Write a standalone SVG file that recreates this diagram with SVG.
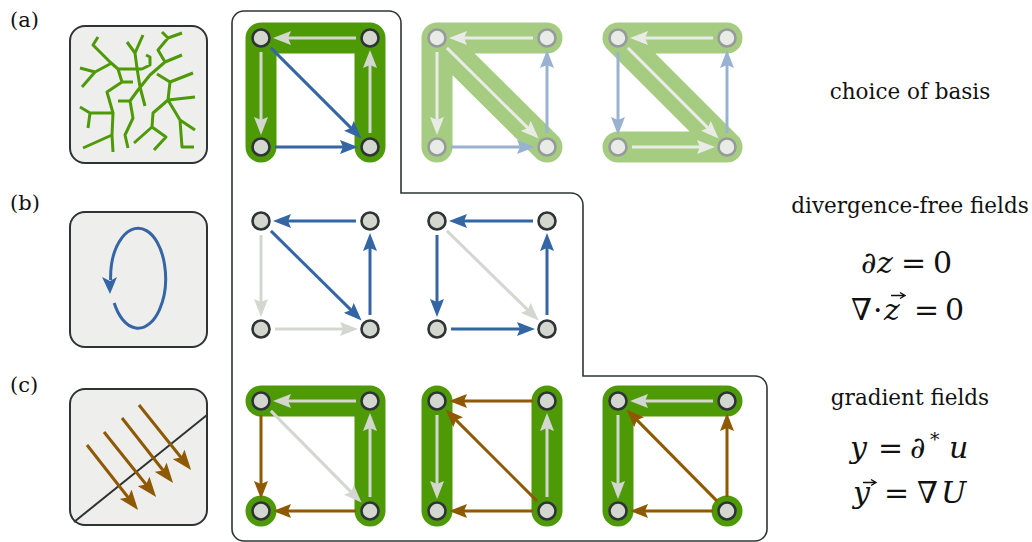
<svg xmlns="http://www.w3.org/2000/svg" width="1032" height="542" viewBox="0 0 1032 542">
<style>
.box{fill:#eeeeec;stroke:#2e3436;stroke-width:2}
.n{fill:#d3d7cf;stroke:#2e3436;stroke-width:2.6}
.nf{fill:#e9ebe7;stroke:#969a9b;stroke-width:2.6}
.band{fill:none;stroke:#4e9a06;stroke-width:31;stroke-linecap:round;stroke-linejoin:round}
.bandf{fill:none;stroke:#a6cc82;stroke-width:31;stroke-linecap:round;stroke-linejoin:round}
.e{fill:none;stroke-width:3}
.g{stroke:#d3d7cf;marker-end:url(#mg)}
.gf{stroke:#e9ebe7;marker-end:url(#mgf)}
.b{stroke:#3465a4;marker-end:url(#mb)}
.bf{stroke:#99b2d1;marker-end:url(#mbf)}
.o{stroke:#8f5902;marker-end:url(#mo)}
.tree{fill:none;stroke:#4e9a06;stroke-width:3;stroke-linejoin:round}
.lbl{font-family:"DejaVu Serif","Liberation Serif",serif;font-size:21.5px;fill:#111;text-anchor:middle}
.pl{font-family:"DejaVu Serif","Liberation Serif",serif;font-size:21px;fill:#111}
.m{font-family:"DejaVu Serif","Liberation Serif",serif;font-size:30px;fill:#111}
.i{font-style:italic}
.vec{fill:none;stroke:#111;stroke-width:1.4}
</style>
<defs>
<marker id="mg" markerUnits="userSpaceOnUse" markerWidth="18" markerHeight="14" viewBox="0 0 18 14" refX="10" refY="7" orient="auto"><path d="M0,0 L18,7 L0,14 L3,7z" fill="#d3d7cf"/></marker>
<marker id="mgf" markerUnits="userSpaceOnUse" markerWidth="18" markerHeight="14" viewBox="0 0 18 14" refX="10" refY="7" orient="auto"><path d="M0,0 L18,7 L0,14 L3,7z" fill="#e9ebe7"/></marker>
<marker id="mb" markerUnits="userSpaceOnUse" markerWidth="18" markerHeight="14" viewBox="0 0 18 14" refX="10" refY="7" orient="auto"><path d="M0,0 L18,7 L0,14 L3,7z" fill="#3465a4"/></marker>
<marker id="mbf" markerUnits="userSpaceOnUse" markerWidth="18" markerHeight="14" viewBox="0 0 18 14" refX="10" refY="7" orient="auto"><path d="M0,0 L18,7 L0,14 L3,7z" fill="#99b2d1"/></marker>
<marker id="mo" markerUnits="userSpaceOnUse" markerWidth="18" markerHeight="14" viewBox="0 0 18 14" refX="10" refY="7" orient="auto"><path d="M0,0 L18,7 L0,14 L3,7z" fill="#8f5902"/></marker>
<marker id="mob" markerUnits="userSpaceOnUse" markerWidth="20" markerHeight="15" viewBox="0 0 20 15" refX="12" refY="7.5" orient="auto"><path d="M0,0 L20,7.5 L0,15 L4,7.5z" fill="#8f5902"/></marker>
</defs>
<rect width="1032" height="542" fill="#fff"/>

<!-- panel labels -->
<text class="pl" x="10" y="27">(a)</text>
<text class="pl" x="10" y="210">(b)</text>
<text class="pl" x="10" y="392">(c)</text>

<!-- icons -->
<g id="icon-a">
<rect class="box" x="70" y="26" width="137" height="137" rx="15"/>
<path class="tree" d="M98,37 L93,45 L110,62 L118,69 L142,69 L150,65 L150,57 L146,55 M80,68 L95,72 L110,64 M95,72 L82,87 M118,69 L122,82 L107,92 L113,113 L112,135 L113,152 M122,82 L133,82 M127,42 L135,53 L137,68 L140,87 L145,106 M135,53 L143,35 M162,32 L168,38 L182,33 M168,38 L158,50 L165,62 L150,75 L138,90 L130,101 L118,101 M165,62 L182,55 M157,74 L170,82 L193,73 M170,82 L168,100 L195,97 M168,100 L180,120 L195,130 M180,120 L182,147 L194,147 M168,100 L153,113 L152,127 L134,143 M152,127 L166,137 L154,150 M130,101 L133,118 L125,135 L128,148 M80,107 L90,113 L113,113 M90,113 L88,128 M112,135 L83,148"/>
</g>
<g id="icon-b">
<rect class="box" x="70" y="212" width="137" height="135" rx="15"/>
<path d="M114.2,303 A27.5,50 0 1 0 110.6,280" fill="none" stroke="#3465a4" stroke-width="3"/>
<path d="M102,277 L110,294 L117,277 L110,281z" fill="#3465a4"/>
</g>
<g id="icon-c">
<rect class="box" x="70" y="389" width="137" height="136" rx="15"/>
<line x1="74" y1="522" x2="207" y2="415" stroke="#2e3436" stroke-width="2"/>
<g fill="none" stroke="#8f5902" stroke-width="3" marker-end="url(#mob)">
<path d="M87,445 L133.1,503.7"/>
<path d="M104,432 L151.1,490.7"/>
<path d="M122,418 L168.1,476.7"/>
<path d="M139,405 L186.1,463.7"/>
</g>
</g>

<!-- outline -->
<path id="frame" d="M232,23 A12,12 0 0 1 244,11 L389,11 A12,12 0 0 1 401,23 L401,193 L571,193 A12,12 0 0 1 583,205 L583,376 L755,376 A12,12 0 0 1 767,388 L767,529 A12,12 0 0 1 755,541 L244,541 A12,12 0 0 1 232,529 Z" fill="none" stroke="#2e3436" stroke-width="1.6"/>

<!-- bands -->
<g id="bands">
<path class="band" d="M261,147 L261,38 L370,38 L370,147"/>
<path class="bandf" d="M437,147 L437,38 L547,147 M437,38 L547,38"/>
<path class="bandf" d="M727,38 L618,38 L727,147 L618,147"/>
<path class="band" d="M261,401 L370,401 L370,511"/>
<circle cx="261" cy="511" r="15.5" fill="#4e9a06"/>
<path class="band" d="M437,401 L437,511 M547,401 L547,511"/>
<path class="band" d="M618,511 L618,401 L727,401"/>
<circle cx="727" cy="511" r="15.5" fill="#4e9a06"/>
</g>

<!-- connectors -->
<g id="connectors">
<g id="edges-a1">
<path class="e g" d="M356,38 L281,38"/>
<path class="e g" d="M261,52 L261,127"/>
<path class="e g" d="M370,133 L370,58"/>
<path class="e b" d="M270.9,47.9 L355.9,132.9"/>
<path class="e b" d="M275,147 L350,147"/>
</g>
<g id="edges-a2">
<path class="e gf" d="M533,38 L457,38"/>
<path class="e gf" d="M437,52 L437,127"/>
<path class="e gf" d="M446.9,47.9 L532.9,132.9"/>
<path class="e bf" d="M451,147 L527,147"/>
<path class="e bf" d="M547,133 L547,58"/>
</g>
<g id="edges-a3">
<path class="e gf" d="M713,38 L638,38"/>
<path class="e gf" d="M627.9,47.9 L712.9,132.9"/>
<path class="e gf" d="M632,147 L707,147"/>
<path class="e bf" d="M618,52 L618,127"/>
<path class="e bf" d="M727,133 L727,58"/>
</g>
<g id="edges-b1">
<path class="e b" d="M356,221 L281,221"/>
<path class="e b" d="M270.9,230.9 L355.9,314.9"/>
<path class="e b" d="M370,315 L370,241"/>
<path class="e g" d="M261,235 L261,309"/>
<path class="e g" d="M275,329 L350,329"/>
</g>
<g id="edges-b2">
<path class="e b" d="M533,221 L457,221"/>
<path class="e b" d="M437,235 L437,309"/>
<path class="e b" d="M451,329 L527,329"/>
<path class="e b" d="M547,315 L547,241"/>
<path class="e g" d="M446.9,230.9 L532.9,314.9"/>
</g>
<g id="edges-c1">
<path class="e g" d="M356,401 L281,401"/>
<path class="e g" d="M270.9,410.9 L355.9,496.9"/>
<path class="e g" d="M370,497 L370,421"/>
<path class="e o" d="M261,415 L261,491"/>
<path class="e o" d="M356,511 L281,511"/>
</g>
<g id="edges-c2">
<path class="e g" d="M437,415 L437,491"/>
<path class="e g" d="M547,497 L547,421"/>
<path class="e o" d="M533,401 L457,401"/>
<path class="e o" d="M537.1,501.1 L451.1,415.1"/>
<path class="e o" d="M533,511 L457,511"/>
</g>
<g id="edges-c3">
<path class="e g" d="M713,401 L638,401"/>
<path class="e g" d="M618,415 L618,491"/>
<path class="e o" d="M727,497 L727,421"/>
<path class="e o" d="M717.1,501.1 L632.1,415.1"/>
<path class="e o" d="M713,511 L638,511"/>
</g>
</g>

<!-- nodes -->
<g id="a1-tl"><circle class="n" cx="261" cy="38" r="8.5"/></g>
<g id="a1-tr"><circle class="n" cx="370" cy="38" r="8.5"/></g>
<g id="a1-bl"><circle class="n" cx="261" cy="147" r="8.5"/></g>
<g id="a1-br"><circle class="n" cx="370" cy="147" r="8.5"/></g>
<g id="a2-tl"><circle class="nf" cx="437" cy="38" r="8.5"/></g>
<g id="a2-tr"><circle class="nf" cx="547" cy="38" r="8.5"/></g>
<g id="a2-bl"><circle class="nf" cx="437" cy="147" r="8.5"/></g>
<g id="a2-br"><circle class="nf" cx="547" cy="147" r="8.5"/></g>
<g id="a3-tl"><circle class="nf" cx="618" cy="38" r="8.5"/></g>
<g id="a3-tr"><circle class="nf" cx="727" cy="38" r="8.5"/></g>
<g id="a3-bl"><circle class="nf" cx="618" cy="147" r="8.5"/></g>
<g id="a3-br"><circle class="nf" cx="727" cy="147" r="8.5"/></g>
<g id="b1-tl"><circle class="n" cx="261" cy="221" r="8.5"/></g>
<g id="b1-tr"><circle class="n" cx="370" cy="221" r="8.5"/></g>
<g id="b1-bl"><circle class="n" cx="261" cy="329" r="8.5"/></g>
<g id="b1-br"><circle class="n" cx="370" cy="329" r="8.5"/></g>
<g id="b2-tl"><circle class="n" cx="437" cy="221" r="8.5"/></g>
<g id="b2-tr"><circle class="n" cx="547" cy="221" r="8.5"/></g>
<g id="b2-bl"><circle class="n" cx="437" cy="329" r="8.5"/></g>
<g id="b2-br"><circle class="n" cx="547" cy="329" r="8.5"/></g>
<g id="c1-tl"><circle class="n" cx="261" cy="401" r="8.5"/></g>
<g id="c1-tr"><circle class="n" cx="370" cy="401" r="8.5"/></g>
<g id="c1-bl"><circle class="n" cx="261" cy="511" r="8.5"/></g>
<g id="c1-br"><circle class="n" cx="370" cy="511" r="8.5"/></g>
<g id="c2-tl"><circle class="n" cx="437" cy="401" r="8.5"/></g>
<g id="c2-tr"><circle class="n" cx="547" cy="401" r="8.5"/></g>
<g id="c2-bl"><circle class="n" cx="437" cy="511" r="8.5"/></g>
<g id="c2-br"><circle class="n" cx="547" cy="511" r="8.5"/></g>
<g id="c3-tl"><circle class="n" cx="618" cy="401" r="8.5"/></g>
<g id="c3-tr"><circle class="n" cx="727" cy="401" r="8.5"/></g>
<g id="c3-bl"><circle class="n" cx="618" cy="511" r="8.5"/></g>
<g id="c3-br"><circle class="n" cx="727" cy="511" r="8.5"/></g>

<!-- right-hand texts -->
<text class="lbl" x="910" y="99">choice of basis</text>
<text class="lbl" x="910" y="213">divergence-free fields</text>
<text class="m" y="273"><tspan class="i" x="861">∂</tspan><tspan class="i" x="877">z</tspan><tspan x="901">=</tspan><tspan x="933">0</tspan></text>
<text class="m" y="320"><tspan x="851">∇</tspan><tspan x="873">·</tspan><tspan class="i" x="884">z</tspan><tspan x="914">=</tspan><tspan x="945">0</tspan></text>
<path class="vec" d="M891,295.5 L904,295.5 M900,292.5 L905,295.5 L900,298.5"/>
<text class="lbl" x="910" y="405">gradient fields</text>
<text class="m" y="458"><tspan class="i" x="850">y</tspan><tspan x="878">=</tspan><tspan class="i" x="910">∂</tspan><tspan x="930" dy="-12" style="font-size:19px">*</tspan><tspan class="i" x="949" dy="12">u</tspan></text>
<text class="m" y="503"><tspan class="i" x="853">y</tspan><tspan x="884">=</tspan><tspan x="917">∇</tspan><tspan class="i" x="941">U</tspan></text>
<path class="vec" d="M863,482.5 L875,482.5 M871,479.5 L876,482.5 L871,485.5"/>
</svg>
